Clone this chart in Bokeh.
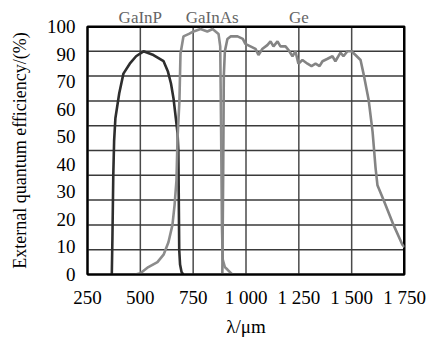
import numpy as np
from bokeh.plotting import figure
from bokeh.models import Range1d, FixedTicker, LinearAxis
from bokeh.embed import file_html
from bokeh.resources import INLINE

# ---- data ----
series_names = ["GaInP", "GaInAs", "Ge"]
series_colors = ["#2e2e2e", "#8c8c8c", "#848484"]
series_label_x = [500, 840, 1250]

gainp_wl = [365, 368, 372, 376, 382, 400, 420, 450, 480, 515, 562, 610, 630, 645, 657, 668, 676, 680, 682, 684, 688, 695, 703]
gainp_qe = [0, 15, 40, 54, 63, 73, 81, 85, 88, 90, 88.5, 86, 82, 77, 71, 63, 57, 50, 30, 10, 4, 1, 0]

gainas_wl = [477, 500, 538, 581, 610, 633, 652, 662, 671, 676, 685, 690, 704, 730, 752, 785, 817, 842, 870, 878, 882, 886, 890, 900, 912, 935]
gainas_qe = [0, 0.5, 3, 5, 8, 13, 20, 28, 38, 55, 70, 89, 96, 97, 98, 99, 98, 99, 97, 92, 60, 20, 6, 3, 2, 0]

ge_wl = [888, 892, 895, 900, 912, 927, 960, 985, 997, 1021, 1045, 1059, 1078, 1101, 1116, 1130, 1149, 1163, 1187, 1201,
         1220, 1234, 1248, 1267, 1291, 1310, 1329, 1348, 1362, 1386, 1409, 1423, 1447, 1461, 1480, 1499, 1518, 1542,
         1556, 1580, 1599, 1613, 1622, 1651, 1698, 1740, 1750]
ge_qe = [0, 40, 80, 90, 95, 96, 96, 95, 93, 92, 91, 88.5, 91, 92.5, 94, 92, 94, 92, 92, 90.5,
         88, 90, 85, 86.5, 85, 84, 85, 84, 86, 87, 88, 86, 89.5, 88, 90, 90, 88.5, 86.5,
         81, 70.6, 57.5, 43, 36, 30, 20, 12, 11]

x_ticks = [250, 500, 750, 1000, 1250, 1500, 1750]
x_tick_labels = ["250", "500", "750", "1 000", "1 250", "1 500", "1 750"]
y_tick_labels = ["0", "10", "20", "30", "40", "50", "60", "70", "90", "100"]
y_grid = list(range(0, 101, 10))

FONT = "Liberation Serif"

x0, x1 = x_ticks[0], x_ticks[-1]
y0, y1 = y_grid[0], y_grid[-1]

p = figure(width=439, height=339, output_backend="svg", toolbar_location=None,
           x_range=Range1d(x0, x1), y_range=Range1d(y0, y1),
           min_border_left=87, min_border_right=35, min_border_top=26, min_border_bottom=61)
p.outline_line_color = "black"
p.outline_line_width = 2
p.xgrid.visible = False
p.ygrid.visible = False

# grid lines drawn as glyphs from the tick / grid arrays
gx = x_ticks[1:-1]
gy = y_grid[1:-1]
p.multi_line(xs=[[v, v] for v in gx], ys=[[y0, y1] for _ in gx], line_color="#4a4a4a", line_width=1.5)
p.multi_line(xs=[[x0, x1] for _ in gy], ys=[[v, v] for v in gy], line_color="#3a3a3a", line_width=1.5)
# frame top and right edges
p.multi_line(xs=[[x0, x1], [x1, x1]], ys=[[y1, y1], [y0, y1]], line_color="black", line_width=3)

for wl, qe, col in zip([gainp_wl, gainas_wl, ge_wl], [gainp_qe, gainas_qe, ge_qe], series_colors):
    p.line(wl, qe, line_color=col, line_width=2.6)

# axes
p.xaxis.ticker = FixedTicker(ticks=x_ticks)
p.xaxis.major_label_overrides = {t: l for t, l in zip(x_ticks, x_tick_labels)}
y_tick_pos = [float(v) for v in np.linspace(0, 100, len(y_tick_labels))]
p.yaxis.ticker = FixedTicker(ticks=y_tick_pos)
p.yaxis.major_label_overrides = {t: l for t, l in zip(y_tick_pos, y_tick_labels)}

for ax in (p.xaxis[0], p.yaxis[0]):
    ax.axis_line_color = "black"
    ax.axis_line_width = 2
    ax.major_tick_line_color = None
    ax.minor_tick_line_color = None
    ax.major_label_text_font = FONT
    ax.major_label_text_font_size = "19px"
    ax.major_label_text_color = "black"
    ax.axis_label_text_font = FONT
    ax.axis_label_text_font_style = "normal"
    ax.axis_label_text_color = "black"
    ax.major_label_standoff = 6

p.xaxis.axis_label = "λ/μm"
p.xaxis.axis_label_text_font_size = "19px"
p.xaxis.axis_label_standoff = 5
p.yaxis.axis_label = "External quantum efficiency/(%)"
p.yaxis.axis_label_text_font_size = "18px"
p.yaxis.axis_label_standoff = 14

# series names above the frame
top = LinearAxis(ticker=FixedTicker(ticks=series_label_x),
                 major_label_overrides={t: n for t, n in zip(series_label_x, series_names)},
                 axis_line_color=None, major_tick_line_color=None, minor_tick_line_color=None,
                 major_tick_out=0, major_tick_in=0,
                 major_label_standoff=0, major_label_text_font=FONT,
                 major_label_text_font_size="17px", major_label_text_color="#666666")
p.add_layout(top, "above")

open("out.html", "w").write(file_html(p, INLINE))
